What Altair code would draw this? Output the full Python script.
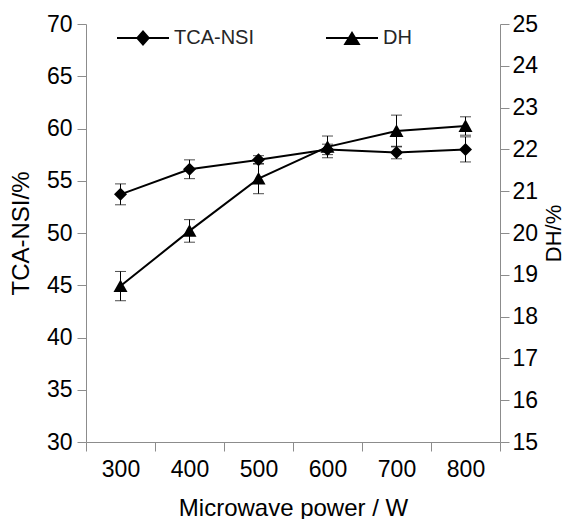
import altair as alt
import pandas as pd

# ---- data ----
power = ["300", "400", "500", "600", "700", "800"]
tca_nsi = [53.7, 56.1, 57.0, 58.0, 57.7, 58.0]
tca_err = [1.0, 0.9, 0.4, 0.5, 0.6, 1.2]
dh = [18.73, 20.05, 21.30, 22.06, 22.44, 22.56]
dh_err = [0.35, 0.27, 0.36, 0.26, 0.38, 0.22]

left_ticks = [30, 35, 40, 45, 50, 55, 60, 65, 70]
right_ticks = [15, 16, 17, 18, 19, 20, 21, 22, 23, 24, 25]
series = ["TCA-NSI", "DH"]

df = pd.DataFrame({"power": power, "tca": tca_nsi, "tca_err": tca_err,
                   "dh": dh, "dh_err": dh_err})

FONT = "Liberation Sans"
AXC = "#8c8c8c"
FS = 23
TFS = 24

# legend symbols: thin bar (line) with marker through it, all filled
BAR = "M-1,-0.04L1,-0.04L1,0.04L-1,0.04Z"
TCA_SYM = BAR + "M0,-0.31L0.27,0L0,0.31L-0.27,0Z"
DH_SYM = BAR + "M0,-0.27L0.33,0.27L-0.33,0.27Z"
TRI = "M0,-0.95L1,0.85L-1,0.85Z"

base = alt.Chart(df).transform_calculate(
    tca_lo="datum.tca - datum.tca_err",
    tca_hi="datum.tca + datum.tca_err",
    dh_lo="datum.dh - datum.dh_err",
    dh_hi="datum.dh + datum.dh_err",
)

xenc = alt.X(
    "power:O",
    sort=power,
    scale=alt.Scale(type="band", paddingInner=0, paddingOuter=0),
    axis=alt.Axis(title="Microwave power / W", tickBand="extent", labelAngle=0,
                  labelPadding=7, titlePadding=15),
)

yl_scale = alt.Scale(domain=[30, 70], nice=False, zero=False)
yl_axis = alt.Axis(title="TCA-NSI/%", values=left_ticks, orient="left",
                   labelPadding=5, titlePadding=13)
yr_scale = alt.Scale(domain=[15, 25], nice=False, zero=False)
yr_axis = alt.Axis(title="DH/%", values=right_ticks, orient="right",
                   labelPadding=3, titlePadding=6, titleAngle=270,
                   titleBaseline="top", titleFontSize=22)

shape_scale = alt.Scale(domain=series, range=[TCA_SYM, DH_SYM])
legend = alt.Legend(
    title=None, orient="none", direction="horizontal", legendX=31, legendY=-12,
    padding=0, columnPadding=72, labelOffset=5, symbolSize=2704,
    labelFont=FONT, labelFontSize=20, labelColor="#262626",
    symbolOpacity=1, symbolFillColor="black", symbolStrokeWidth=0,
)


def series_layers(field, lo, hi, scale, axis, shape, size, name):
    y = alt.Y(f"{field}:Q", scale=scale, axis=axis)
    ylo = alt.Y(f"{lo}:Q", scale=scale, axis=axis)
    yhi = alt.Y(f"{hi}:Q", scale=scale, axis=axis)
    rule = base.mark_rule(color="black", strokeWidth=1).encode(
        x=xenc, y=ylo, y2=f"{hi}:Q")
    cap_lo = base.mark_tick(color="black", thickness=1, size=11).encode(x=xenc, y=ylo)
    cap_hi = base.mark_tick(color="black", thickness=1, size=11).encode(x=xenc, y=yhi)
    line = base.mark_line(color="black", strokeWidth=2).encode(x=xenc, y=y)
    pts = base.mark_point(shape=shape, filled=True, color="black", size=size,
                          opacity=1).encode(x=xenc, y=y)
    leg = base.transform_calculate(series=f"'{name}'").mark_point(
        filled=True, color="black", opacity=0, size=1).encode(
        x=xenc, y=y,
        shape=alt.Shape("series:N", scale=shape_scale, legend=legend))
    return alt.layer(rule, cap_lo, cap_hi, line, pts, leg)


left = series_layers("tca", "tca_lo", "tca_hi", yl_scale, yl_axis, "diamond", 169, "TCA-NSI")
right = series_layers("dh", "dh_lo", "dh_hi", yr_scale, yr_axis, TRI, 196, "DH")

chart = alt.layer(left, right).resolve_scale(y="independent").properties(
    width=414, height=418, background="white",
    autosize=alt.AutoSizeParams(type="none"),
    padding={"left": 78, "top": 16, "right": 64, "bottom": 77},
).configure_axis(
    grid=False, domainColor=AXC, tickColor=AXC, tickSize=9,
    labelFont=FONT, labelFontSize=FS, labelColor="black",
    titleFont=FONT, titleFontSize=TFS, titleFontWeight="normal", titleColor="black",
).configure_view(stroke=None)

chart.save("out.html", embed_options={"renderer": "svg", "actions": False})
